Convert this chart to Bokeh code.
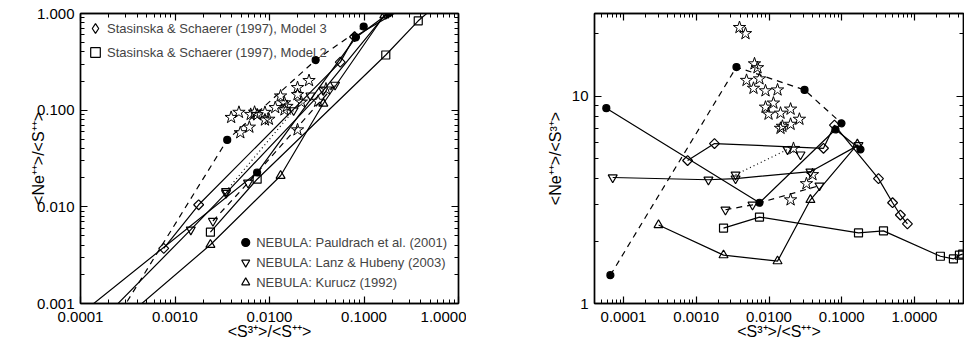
import numpy as np
from bokeh.plotting import figure
from bokeh.models import (FixedTicker, LogAxis, Legend, LegendItem, Range1d,
                          CustomJSTickFormatter)
from bokeh.layouts import row
from bokeh.core.properties import value
from bokeh.embed import file_html
from bokeh.resources import INLINE

# ---------------- data ----------------
# x = <S3+>/<S++>,  r = <Ne++>/<S3+>   (left panel plots x*r = <Ne++>/<S++>)
paul_x = [5.8e-5, 0.0074, 0.082, 0.181]
paul_r = [8.74, 3.06, 6.9, 5.53]
paul_dash_x = [6.6e-5, 0.00357, 0.0308, 0.0992]
paul_dash_r = [1.37, 13.8, 10.7, 7.39]
lanz_x = [7.1e-5, 0.00147, 0.00347, 0.0371, 0.17]
lanz_r = [4.05, 3.95, 4.0, 4.32, 5.8]
lanz_dot_x = [0.00347, 0.018, 0.0271]
lanz_dot_r = [4.18, 5.53, 5.22]
lanz_dash_x = [0.00252, 0.00593, 0.0494]
lanz_dash_r = [2.83, 2.99, 3.7]
kur_x = [3.03e-4, 0.00237, 0.0131, 0.0371, 0.164]
kur_r = [2.39, 1.71, 1.60, 3.16, 5.85]
ss3_x = [7.6e-4, 0.00178, 0.0561, 0.0794, 0.32, 0.5, 0.64, 0.8]
ss3_r = [4.89, 5.9, 5.6, 7.24, 4.0, 3.06, 2.67, 2.42]
ss2_x = [0.00237, 0.0074, 0.17, 0.375, 2.27, 3.43, 4.15, 4.6]
ss2_r = [2.31, 2.61, 2.19, 2.24, 1.69, 1.64, 1.71, 1.73]
obs_x = [0.00393, 0.00475, 0.00632, 0.00695, 0.00491, 0.00740, 0.00612, 0.00895,
         0.0131, 0.00895, 0.0115, 0.00985, 0.0144, 0.0198, 0.0144, 0.0153,
         0.0198, 0.0262, 0.0217, 0.0396, 0.0327, 0.0198]
obs_r = [21.4, 20.0, 14.3, 13.7, 11.9, 12.1, 10.9, 10.6,
         10.7, 8.84, 9.25, 8.18, 8.27, 8.65, 6.99, 7.15,
         7.31, 7.73, 5.59, 4.18, 3.78, 3.16]

x_ticks = [1e-4, 1e-3, 1e-2, 1e-1, 1.0]
x_tick_labels = ["0.0001", "0.0010", "0.0100", "0.1000", "1.0000"]
yl_ticks = [1e-3, 1e-2, 1e-1, 1.0]
yl_tick_labels = ["0.001", "0.010", "0.100", "1.000"]
yr_ticks = [1.0, 10.0]
yr_tick_labels = ["1", "10"]

x_title = "<S³⁺>/<S⁺⁺>"
yl_title = "<Ne⁺⁺>/<S⁺⁺>"
yr_title = "<Ne⁺⁺>/<S³⁺>"

leg_ss3 = "Stasinska & Schaerer (1997), Model 3"
leg_ss2 = "Stasinska & Schaerer (1997), Model 2"
leg_paul = "NEBULA: Pauldrach et al. (2001)"
leg_lanz = "NEBULA: Lanz & Hubeny (2003)"
leg_kur = "NEBULA: Kurucz (1992)"

# ---------------- styling ----------------
FONT = "Liberation Sans"
LW = 1.2


def minor_of(lo, hi):
    return [m * 10.0 ** e for e in range(lo, hi) for m in range(2, 10)]


def style_axis(ax, ticks, minor, labels=None):
    ax.ticker = FixedTicker(ticks=ticks, minor_ticks=minor)
    ax.major_tick_in = 7
    ax.major_tick_out = 0
    ax.minor_tick_in = 4
    ax.minor_tick_out = 0
    ax.axis_line_color = "black"
    ax.axis_line_width = 1.4
    ax.major_tick_line_color = "black"
    ax.minor_tick_line_color = "black"
    ax.major_tick_line_width = 1.2
    ax.minor_tick_line_width = 1
    if labels is None:
        ax.formatter = CustomJSTickFormatter(code="return ''")
        ax.major_label_text_font_size = "0px"
        ax.major_label_standoff = 0
    else:
        ax.major_label_overrides = dict(zip(ticks, labels))
        ax.major_label_text_font = FONT
        ax.major_label_text_font_size = "15px"
        ax.major_label_text_color = "black"
        ax.major_label_text_line_height = 1.0
        ax.axis_label_text_font = FONT
        ax.axis_label_text_font_size = "16px"
        ax.axis_label_text_font_style = "normal"
        ax.axis_label_text_color = "black"
        ax.axis_label_text_line_height = 1.0


def make_panel(ratio, width, border_left, border_right, xr, yr, yticks, ylabels,
               ytitle, ylab_standoff):
    p = figure(width=width, height=342, x_axis_type="log", y_axis_type="log",
               x_range=Range1d(*xr), y_range=Range1d(*yr),
               output_backend="svg", toolbar_location=None,
               min_border_left=border_left, min_border_right=border_right,
               min_border_top=13, min_border_bottom=0)
    p.grid.visible = False
    p.outline_line_color = "black"
    p.outline_line_width = 1.4
    p.background_fill_color = "white"
    p.border_fill_color = "white"

    lo = int(np.floor(np.log10(yr[0]))) - 1
    hi = int(np.ceil(np.log10(yr[1]))) + 1
    xminor = minor_of(-6, 2)
    yminor = minor_of(lo, hi)

    style_axis(p.xaxis[0], x_ticks, xminor, x_tick_labels)
    p.xaxis[0].axis_label = x_title
    p.xaxis[0].major_label_standoff = 8
    p.xaxis[0].axis_label_standoff = -2
    style_axis(p.yaxis[0], yticks, yminor, ylabels)
    p.yaxis[0].axis_label = ytitle
    p.yaxis[0].major_label_standoff = 6
    p.yaxis[0].axis_label_standoff = ylab_standoff

    top = LogAxis()
    style_axis(top, x_ticks, xminor)
    p.add_layout(top, "above")
    right = LogAxis()
    style_axis(right, yticks, yminor)
    p.add_layout(right, "right")

    def yvals(xs, rs):
        xs = np.array(xs, dtype=float)
        rs = np.array(rs, dtype=float)
        return rs if ratio else xs * rs

    rends = {}
    series = [
        ("paul", paul_x, paul_r, "circle", "solid", True, 7),
        ("paul_dash", paul_dash_x, paul_dash_r, "circle", "6 5", True, 7),
        ("lanz", lanz_x, lanz_r, "inverted_triangle", "solid", False, 9),
        ("lanz_dot", lanz_dot_x, lanz_dot_r, "inverted_triangle", "1 3", False, 9),
        ("lanz_dash", lanz_dash_x, lanz_dash_r, "inverted_triangle", "6 5", False, 9),
        ("kur", kur_x, kur_r, "triangle", "solid", False, 9),
        ("ss3", ss3_x, ss3_r, "diamond", "solid", False, 7),
        ("ss2", ss2_x, ss2_r, "square", "solid", False, 8),
    ]
    for name, xs, rs, marker, dash, filled, size in series:
        ys = yvals(xs, rs)
        p.line(xs, ys, line_color="black", line_width=LW, line_dash=dash)
        kw = dict(size=size, line_color="black", line_width=LW,
                  fill_color="black" if filled else "white",
                  fill_alpha=1.0 if filled else 0.0)
        if marker == "diamond":
            r = p.scatter(xs, ys, marker="square", angle=np.pi / 4, **kw)
        else:
            r = p.scatter(xs, ys, marker=marker, **kw)
        rends[name] = r

    p.scatter(obs_x, yvals(obs_x, obs_r), marker="star", size=13,
              line_color="black", line_width=1.0, fill_alpha=0.0)
    return p, rends


left, lr = make_panel(False, 466, 80, 8, (1e-4, 1.0), (1e-3, 1.0),
                      yl_ticks, yl_tick_labels, yl_title, -13)
right, rr = make_panel(True, 498, 128, 1, (3.99e-5, 4.72), (1.0, 25.0),
                       yr_ticks, yr_tick_labels, yr_title, 5)

# legend-only key for the diamond symbol (a single undrawn NaN point)
diamond_key = left.scatter([np.nan], [np.nan], marker="diamond", line_color="black",
                           line_width=LW, fill_alpha=0.0)

leg_top = Legend(items=[LegendItem(label=value(leg_ss3), renderers=[diamond_key]),
                        LegendItem(label=value(leg_ss2), renderers=[lr["ss2"]])],
                 location="top_left", margin=0, padding=3, spacing=-6,
                 glyph_width=24, glyph_height=24, label_standoff=0,
                 label_text_font=FONT, label_text_font_size="13px",
                 label_height=18,
                 border_line_alpha=0, background_fill_alpha=0)
leg_bot = Legend(items=[LegendItem(label=value(leg_paul), renderers=[lr["paul"]]),
                        LegendItem(label=value(leg_lanz), renderers=[lr["lanz"]]),
                        LegendItem(label=value(leg_kur), renderers=[lr["kur"]])],
                 location="bottom_right", margin=0, padding=11, spacing=0,
                 glyph_width=20, glyph_height=20, label_standoff=1,
                 label_text_font=FONT, label_text_font_size="13px",
                 label_height=20,
                 border_line_alpha=0, background_fill_alpha=0)
left.add_layout(leg_top)
left.add_layout(leg_bot)

layout = row(left, right)
open("out.html", "w").write(file_html(layout, INLINE))
